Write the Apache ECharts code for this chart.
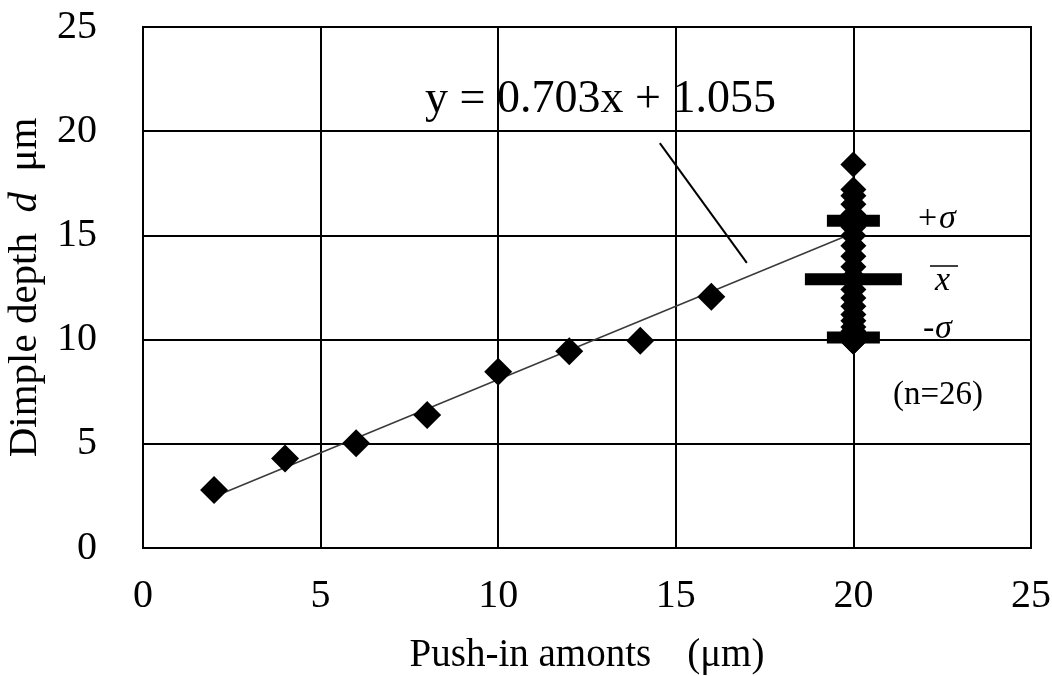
<!DOCTYPE html>
<html>
<head>
<meta charset="utf-8">
<script src="https://cdn.jsdelivr.net/npm/echarts@6/dist/echarts.min.js"></script>
<style>
  html, body { margin: 0; padding: 0; background: #fff; }
  #chart { width: 1052px; height: 676px; }
</style>
</head>
<body>
<div id="chart"></div>
<script>
// Push-in amount (µm) against measured dimple depth (µm)
const pushIn = [2, 4, 6, 8, 10, 12, 14, 16];
const depth = [2.78, 4.29, 5.03, 6.38, 8.46, 9.44, 9.95, 12.06];

// Repeated measurements at 20 µm push-in (n = 26)
const repeatX = 20;
const repeatDepth = [18.4, 17.2, 16.9, 16.5, 16.0, 15.7, 15.4, 15.0, 14.5, 14.0, 13.5, 13.0, 12.8,
                     12.4, 12.0, 11.6, 11.2, 10.9, 10.6, 10.4, 10.3, 10.2, 10.1, 10.0, 9.9, 9.9];
const repeatMean = 12.9;
const repeatSigma = 2.8;

// Linear fit  y = 0.703x + 1.055
const fitSlope = 0.703;
const fitIntercept = 1.055;
const fitRange = [2, 20];

// Leader from the equation label to the fit line
const leader = [[14.55, 19.43], [17.0, 13.68]];

const xTicks = [0, 25, 5];
const yTicks = [0, 25, 5];

const serif = "'Liberation Serif', 'Times New Roman', serif";

const fitLine = fitRange.map(x => [x, fitSlope * x + fitIntercept]);

const chart = echarts.init(document.getElementById('chart'), null, { renderer: 'canvas' });

const axisCommon = {
  type: 'value',
  axisLine: { show: true, lineStyle: { color: '#000', width: 2 } },
  axisTick: { show: false },
  splitLine: { show: true, lineStyle: { color: '#000', width: 2 } },
  axisLabel: { color: '#000', fontFamily: serif, fontSize: 40 }
};

chart.setOption({
  animation: false,
  backgroundColor: '#fff',
  grid: {
    left: 143, right: 21, top: 27, bottom: 128,
    outerBoundsMode: 'none',
    containLabel: false,
    show: true, borderColor: '#000', borderWidth: 2
  },
  xAxis: Object.assign({}, axisCommon, {
    min: xTicks[0], max: xTicks[1], interval: xTicks[2],
    axisLabel: Object.assign({}, axisCommon.axisLabel, { margin: 28 }),
    name: '{a|Push-in amonts}{b|(μm)}',
    nameLocation: 'middle',
    nameGap: 88,
    nameTextStyle: {
      rich: {
        a: { fontFamily: serif, fontSize: 39, color: '#000' },
        b: { fontFamily: serif, fontSize: 39, color: '#000', padding: [0, 0, 0, 36] }
      }
    }
  }),
  yAxis: Object.assign({}, axisCommon, {
    min: yTicks[0], max: yTicks[1], interval: yTicks[2],
    axisLabel: Object.assign({}, axisCommon.axisLabel, { margin: 46 }),
    name: '{a|Dimple depth  }{i|d}{a|  μm}',
    nameLocation: 'middle',
    nameGap: 91,
    nameTextStyle: {
      rich: {
        a: { fontFamily: serif, fontSize: 41, color: '#000' },
        i: { fontFamily: serif, fontSize: 41, fontStyle: 'italic', color: '#000' }
      }
    }
  }),
  series: [
    {
      name: 'fit',
      type: 'line',
      data: fitLine,
      symbol: 'none',
      lineStyle: { color: '#3a3a3a', width: 1.5 },
      z: 3
    },
    {
      name: 'leader',
      type: 'line',
      data: leader,
      symbol: 'none',
      lineStyle: { color: '#000', width: 2 },
      z: 3
    },
    {
      name: 'depth',
      type: 'scatter',
      data: pushIn.map((x, i) => [x, depth[i]]),
      symbol: 'diamond',
      symbolSize: 28,
      itemStyle: { color: '#000', opacity: 1 },
      z: 4
    },
    {
      name: 'repeat',
      type: 'scatter',
      data: repeatDepth.map(v => [repeatX, v]),
      symbol: 'diamond',
      symbolSize: 26,
      itemStyle: { color: '#000', opacity: 1 },
      z: 4
    },
    {
      name: 'sigma',
      type: 'scatter',
      data: [
        { value: [repeatX, repeatMean + repeatSigma], symbolSize: [53, 12] },
        { value: [repeatX, repeatMean], symbolSize: [97, 12] },
        { value: [repeatX, repeatMean - repeatSigma], symbolSize: [53, 12] }
      ],
      symbol: 'rect',
      itemStyle: { color: '#000', opacity: 1 },
      z: 5
    }
  ],
  graphic: [
    {
      type: 'text', left: 425, top: 77,
      style: { text: 'y = 0.703x + 1.055', fontFamily: serif, fontSize: 46, fill: '#000' }
    },
    {
      type: 'text', left: 918, top: 202,
      style: { text: '+', fontFamily: serif, fontSize: 34, fill: '#000' }
    },
    {
      type: 'text', left: 939, top: 202,
      style: { text: 'σ', fontFamily: serif, fontSize: 34, fontStyle: 'italic', fill: '#000' }
    },
    {
      type: 'text', left: 935, top: 264,
      style: { text: 'x', fontFamily: serif, fontSize: 34, fontStyle: 'italic', fill: '#000' }
    },
    {
      type: 'line',
      shape: { x1: 930, y1: 266, x2: 958, y2: 266 },
      style: { stroke: '#000', lineWidth: 1.5 }
    },
    {
      type: 'text', left: 923, top: 312,
      style: { text: '-', fontFamily: serif, fontSize: 34, fill: '#000' }
    },
    {
      type: 'text', left: 935, top: 312,
      style: { text: 'σ', fontFamily: serif, fontSize: 34, fontStyle: 'italic', fill: '#000' }
    },
    {
      type: 'text', left: 893, top: 379,
      style: { text: '(n=26)', fontFamily: serif, fontSize: 33, fill: '#000' }
    }
  ]
});
</script>
</body>
</html>
